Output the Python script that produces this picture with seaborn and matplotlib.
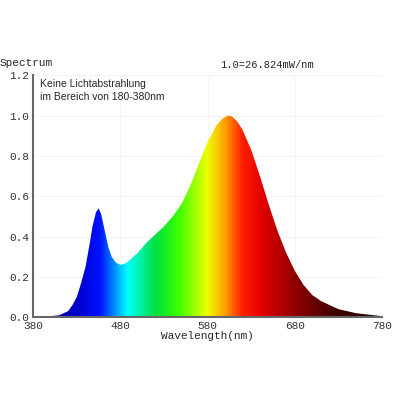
import numpy as np
import matplotlib
matplotlib.use("Agg")
import matplotlib.pyplot as plt
import seaborn as sns
from matplotlib.colors import LinearSegmentedColormap

wavelength = [380, 400, 410, 420, 425, 430, 435, 440, 445, 448, 452, 455, 458, 462, 466, 470, 475,
              480, 485, 490, 500, 510, 520, 530, 540, 550, 560, 570, 580, 590, 597, 603, 608, 614,
              620, 630, 640, 650, 660, 670, 680, 690, 700, 710, 720, 730, 740, 750, 760, 770, 780]
intensity = [0.005, 0.005, 0.01, 0.03, 0.06, 0.1, 0.17, 0.25, 0.37, 0.45, 0.52, 0.54, 0.51, 0.43,
             0.35, 0.3, 0.27, 0.26, 0.265, 0.28, 0.32, 0.37, 0.41, 0.45, 0.5, 0.56, 0.65, 0.76,
             0.87, 0.95, 0.985, 1.0, 0.995, 0.97, 0.93, 0.83, 0.70, 0.56, 0.43, 0.32, 0.23, 0.16,
             0.11, 0.08, 0.06, 0.04, 0.03, 0.02, 0.015, 0.01, 0.005]
xticks = [380, 480, 580, 680, 780]
yticks = [0.0, 0.2, 0.4, 0.6, 0.8, 1.0, 1.2]

sns.set_style("white")
mono = "Liberation Mono"

fig = plt.figure(figsize=(4, 4), dpi=100)
ax = fig.add_axes([0.083, 0.207, 0.872, 0.605])

cmap = LinearSegmentedColormap.from_list("spec", [
    (0.0, "#0000a0"), (0.12, "#0000c8"), (0.19, "#0010ff"), (0.27, "#00ffff"),
    (0.35, "#00e040"), (0.42, "#40ff00"), (0.5, "#f0ff00"), (0.55, "#ffa000"),
    (0.6, "#ff2000"), (0.66, "#e00000"), (0.75, "#900000"), (0.87, "#400000"), (1.0, "#200000")])
grad = np.linspace(0, 1, 800).reshape(1, -1)
img = ax.imshow(grad, extent=[380, 780, 0, 1.2], aspect="auto", cmap=cmap, origin="lower", zorder=1)
poly = ax.fill_between(wavelength, intensity, 0, color="none", lw=0)
clip = poly.get_paths()[0]
img.set_clip_path(clip, ax.transData)
sns.lineplot(x=wavelength, y=intensity, ax=ax, color="#200000", lw=0.0, zorder=0)

ax.set_xlim(380, 780)
ax.set_ylim(0, 1.2)
ax.set_xticks(xticks)
ax.set_yticks(yticks)
ax.set_xticklabels([str(t) for t in xticks], fontfamily=mono, fontsize=8)
ax.set_yticklabels([f"{t:.1f}" for t in yticks], fontfamily=mono, fontsize=8)
ax.grid(True, color="#f0f0f0", lw=0.5)
for s in ["top", "right"]:
    ax.spines[s].set_visible(False)
for s in ["left", "bottom"]:
    ax.spines[s].set_color("#666666")
    ax.spines[s].set_linewidth(1.5)
ax.tick_params(length=2, pad=1, colors="#333333")
ax.set_xlabel("Wavelength(nm)", fontfamily=mono, fontsize=8, labelpad=0)
fig.text(0.0, 0.835, "Spectrum", fontfamily=mono, fontsize=8)
fig.text(0.55, 0.83, "1.0=26.824mW/nm", fontfamily=mono, fontsize=7.5)
ax.text(0.02, 0.985, "Keine Lichtabstrahlung\nim Bereich von 180-380nm", transform=ax.transAxes,
        fontsize=7.5, va="top", fontfamily="Liberation Sans", linespacing=1.4)
fig.savefig("out.png")
